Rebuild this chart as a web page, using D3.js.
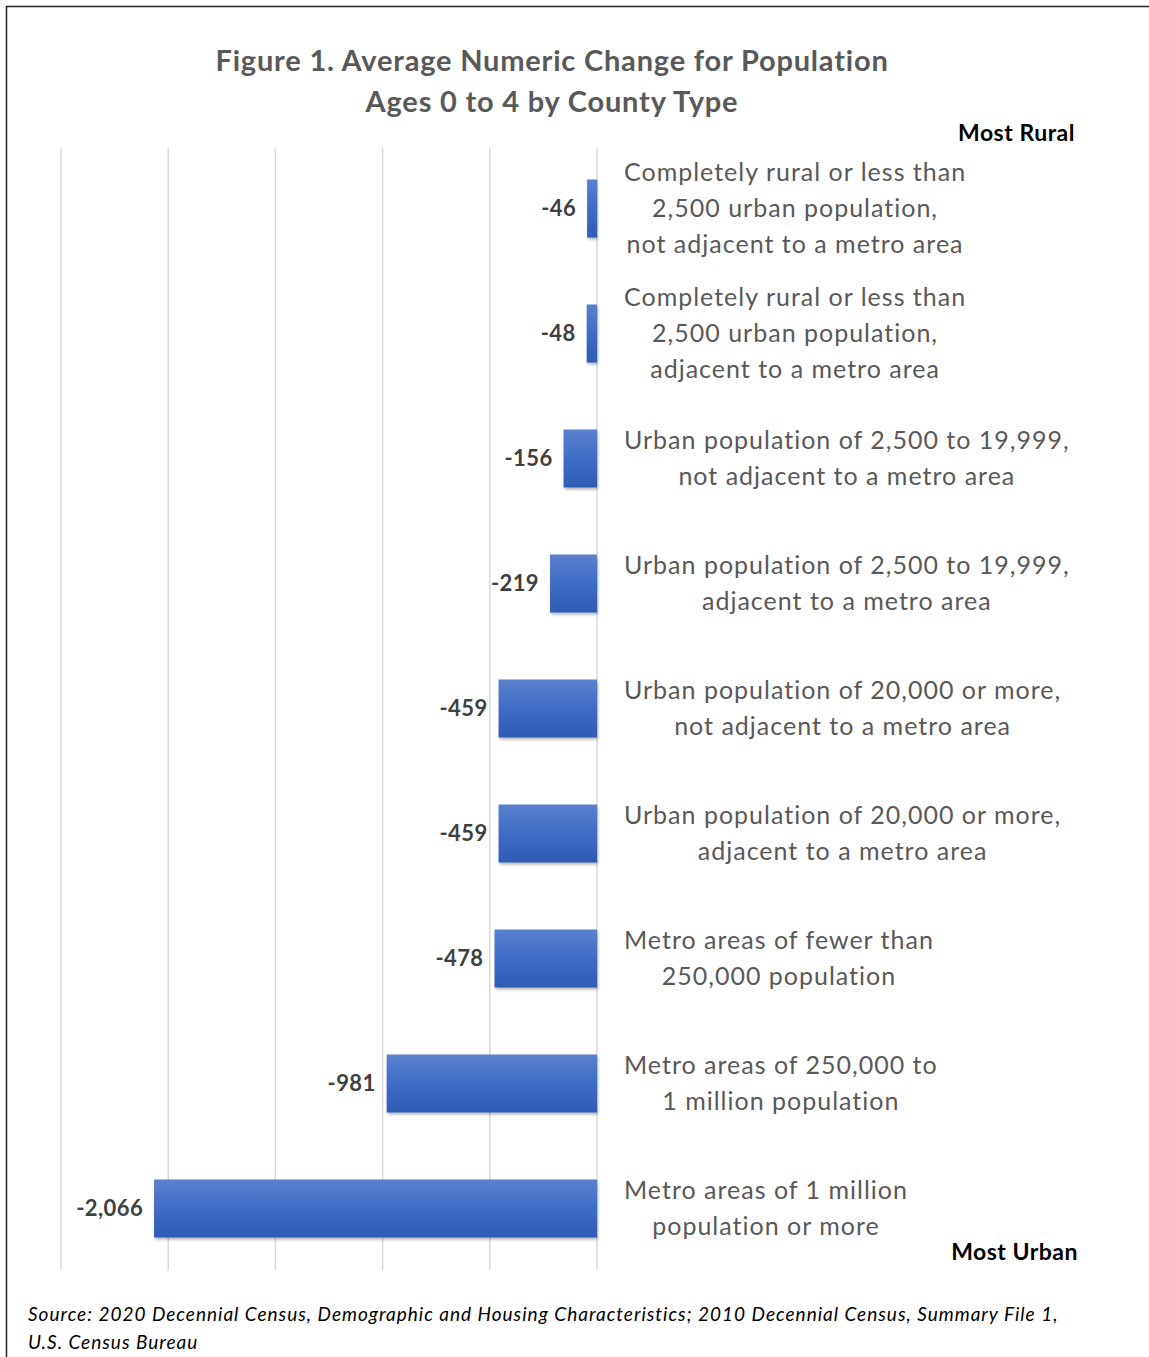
<!DOCTYPE html>
<html>
<head>
<meta charset="utf-8">
<script src="https://cdn.jsdelivr.net/npm/d3@7"></script>
<style>
  body { margin: 0; background: #fff; }
  svg text { font-family: Lato, "Open Sans", sans-serif; }
</style>
</head>
<body>
<div id="chart"></div>
<script>
// data, top (most rural) to bottom (most urban)
var categories = [
    ["Completely rural or less than", "2,500 urban population,", "not adjacent to a metro area"],
    ["Completely rural or less than", "2,500 urban population,", "adjacent to a metro area"],
    ["Urban population of 2,500 to 19,999,", "not adjacent to a metro area"],
    ["Urban population of 2,500 to 19,999,", "adjacent to a metro area"],
    ["Urban population of 20,000 or more,", "not adjacent to a metro area"],
    ["Urban population of 20,000 or more,", "adjacent to a metro area"],
    ["Metro areas of fewer than", "250,000 population"],
    ["Metro areas of 250,000 to", "1 million population"],
    ["Metro areas of 1 million", "population or more"]
];
var values = [-46, -48, -156, -219, -459, -459, -478, -981, -2066];
var gridTicks = [-2500, -2000, -1500, -1000, -500, 0];
var titleLines = ["Figure 1. Average Numeric Change for Population", "Ages 0 to 4 by County Type"];
var sourceLines = [
    "Source: 2020 Decennial Census, Demographic and Housing Characteristics; 2010 Decennial Census, Summary File 1,",
    "U.S. Census Bureau"
];

function init() {
    var w = 1149;
    var h = 1357;
    var ids = d3.range(categories.length);

    // plain hyphen for negatives, like the original
    var fmt = d3.formatLocale({ decimal: ".", thousands: ",", grouping: [3], currency: ["$", ""], minus: "-" }).format(",");

    var svg = d3.select("#chart")
        .append("svg")
        .attr("width", w)
        .attr("height", h);

    var defs = svg.append("defs");
    var grad = defs.append("linearGradient")
        .attr("id", "barGrad")
        .attr("x1", 0).attr("y1", 0).attr("x2", 0).attr("y2", 1);
    grad.append("stop").attr("offset", "0%").attr("stop-color", "#5b81cd");
    grad.append("stop").attr("offset", "50%").attr("stop-color", "#3f6cc5");
    grad.append("stop").attr("offset", "100%").attr("stop-color", "#2e5bb4");

    var shadow = defs.append("filter")
        .attr("id", "shadow")
        .attr("x", "-10%").attr("y", "-20%")
        .attr("width", "130%").attr("height", "150%");
    shadow.append("feDropShadow")
        .attr("dx", 1).attr("dy", 2)
        .attr("stdDeviation", 1.5)
        .attr("flood-color", "#000")
        .attr("flood-opacity", 0.3);

    // frame
    svg.append("rect")
        .attr("x", 6.5).attr("y", 6.5)
        .attr("width", w).attr("height", h)
        .attr("fill", "none")
        .attr("stroke", "#222")
        .attr("stroke-width", 1.5);

    // scales
    var xScale = d3.scaleLinear()
        .domain([-2500, 0])
        .range([61, 597]);

    var yScale = d3.scaleBand()
        .domain(ids)
        .range([146, 1271])
        .paddingInner(0.536)
        .paddingOuter(0.268);

    // gridlines
    svg.append("g")
        .selectAll("line")
        .data(gridTicks)
        .enter()
        .append("line")
        .attr("x1", function(d) { return xScale(d); })
        .attr("x2", function(d) { return xScale(d); })
        .attr("y1", 148)
        .attr("y2", 1270)
        .attr("stroke", "#d9d9d9")
        .attr("stroke-width", 1.5);

    // bars
    svg.append("g")
        .selectAll("rect")
        .data(ids)
        .enter()
        .append("rect")
        .attr("x", function(i) { return xScale(values[i]); })
        .attr("y", function(i) { return yScale(i); })
        .attr("width", function(i) { return xScale(0) - xScale(values[i]); })
        .attr("height", yScale.bandwidth())
        .attr("fill", "url(#barGrad)")
        .attr("filter", "url(#shadow)");

    // value labels
    svg.append("g")
        .selectAll("text")
        .data(ids)
        .enter()
        .append("text")
        .attr("x", function(i) { return xScale(values[i]) - 11; })
        .attr("y", function(i) { return yScale(i) + yScale.bandwidth() / 2; })
        .attr("dy", "0.35em")
        .attr("text-anchor", "end")
        .attr("font-size", 22)
        .attr("font-weight", "bold")
        .attr("letter-spacing", 0.4)
        .attr("fill", "#404040")
        .text(function(i) { return fmt(values[i]); });

    // category labels, centred block starting at x=624
    var lineH = 36;
    var labels = svg.append("g")
        .selectAll("text")
        .data(ids)
        .enter()
        .append("text")
        .attr("font-size", 25)
        .attr("letter-spacing", 1)
        .attr("fill", "#595959")
        .attr("text-anchor", "middle");

    labels.each(function(i) {
        var t = d3.select(this);
        var lines = categories[i];
        var cy = yScale(i) + yScale.bandwidth() / 2;
        lines.forEach(function(s, k) {
            t.append("tspan")
                .attr("y", cy + (k - (lines.length - 1) / 2) * lineH)
                .attr("dy", "0.35em")
                .text(s);
        });
        var maxW = d3.max(t.selectAll("tspan").nodes(), function(n) { return n.getComputedTextLength(); });
        t.selectAll("tspan").attr("x", 624 + maxW / 2);
    });

    // title
    svg.append("g")
        .selectAll("text")
        .data(titleLines)
        .enter()
        .append("text")
        .attr("x", 552)
        .attr("y", function(d, k) { return 71 + k * 41; })
        .attr("text-anchor", "middle")
        .attr("font-size", 29)
        .attr("font-weight", "bold")
        .attr("letter-spacing", 0.8)
        .attr("fill", "#595959")
        .text(function(d) { return d; });

    // end markers
    svg.append("text")
        .attr("x", 1075).attr("y", 141)
        .attr("text-anchor", "end")
        .attr("font-size", 23)
        .attr("font-weight", "bold")
        .attr("letter-spacing", 0.5)
        .attr("fill", "#000")
        .text("Most Rural");

    svg.append("text")
        .attr("x", 1078).attr("y", 1260)
        .attr("text-anchor", "end")
        .attr("font-size", 23)
        .attr("font-weight", "bold")
        .attr("letter-spacing", 0.5)
        .attr("fill", "#000")
        .text("Most Urban");

    // source note
    svg.append("g")
        .selectAll("text")
        .data(sourceLines)
        .enter()
        .append("text")
        .attr("x", 28)
        .attr("y", function(d, k) { return 1321 + k * 28; })
        .attr("font-size", 19)
        .attr("font-style", "italic")
        .attr("letter-spacing", 1)
        .attr("fill", "#000")
        .text(function(d) { return d; });
}

window.onload = init;
</script>
</body>
</html>
